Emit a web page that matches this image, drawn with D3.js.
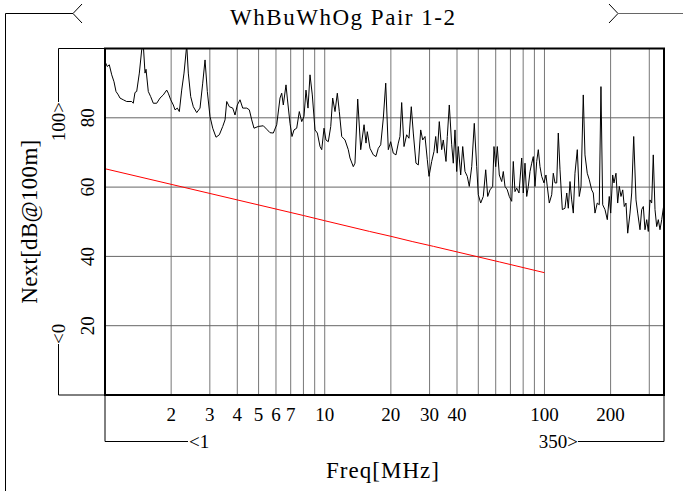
<!DOCTYPE html>
<html>
<head>
<meta charset="utf-8">
<script src="https://cdn.jsdelivr.net/npm/d3@7"></script>
<style>
  body { margin: 0; background: #fff; }
  svg { display: block; }
</style>
</head>
<body>
<div id="chart"></div>
<script>

const title = "WhBuWhOg Pair 1-2";
const xLabel = "Freq[MHz]";
const yLabel = "Next[dB@100m]";

const xRange = [1, 350];
const yRange = [0, 100];

const xTicks = [2, 3, 4, 5, 6, 7, 10, 20, 30, 40, 100, 200];
const xGrid = [2, 3, 4, 5, 6, 7, 8, 9, 10, 20, 30, 40, 50, 60, 70, 80, 90, 100, 200, 300];
const yTicks = [20, 40, 60, 80];

// measured curve: frequency (MHz) and NEXT (dB)
const freq = [
  1.00, 1.024, 1.046, 1.073, 1.099, 1.122, 1.150, 1.170, 1.211, 1.255,
  1.323, 1.345, 1.369, 1.394, 1.433, 1.469, 1.494, 1.521, 1.537, 1.574,
  1.614, 1.659, 1.719, 1.780, 1.842, 1.909, 1.941, 1.991, 2.046, 2.083,
  2.134, 2.179, 2.234, 2.289, 2.355, 2.394, 2.455, 2.523, 2.615, 2.707,
  2.784, 2.853, 2.922, 3.005, 3.092, 3.201, 3.314, 3.434, 3.518, 3.581,
  3.680, 3.814, 3.906, 4.002, 4.116, 4.234, 4.416, 4.538, 4.653, 4.766,
  4.985, 5.254, 5.445, 5.636, 5.834, 6.046, 6.259, 6.371, 6.479, 6.665,
  6.756, 6.950, 7.097, 7.248, 7.456, 7.661, 7.857, 8.047, 8.218, 8.392,
  8.570, 8.779, 9.031, 9.254, 9.520, 9.690, 9.926, 10.13, 10.38, 10.65,
  10.87, 11.14, 11.41, 11.65, 11.95, 12.37, 12.80, 13.03, 13.49, 13.73,
  14.13, 14.58, 15.10, 15.41, 15.62, 16.07, 16.64, 17.12, 17.53, 17.98,
  18.48, 18.95, 19.47, 19.96, 20.51, 21.10, 21.62, 22.00, 22.40, 22.95,
  23.60, 24.18, 24.77, 25.30, 26.02, 26.66, 27.34, 27.92, 28.60, 29.30,
  29.82, 30.68, 31.43, 31.99, 32.53, 33.22, 34.07, 34.64, 35.64, 36.13,
  36.89, 37.83, 38.47, 39.16, 39.86, 40.54, 41.57, 42.46, 43.49, 44.55,
  45.49, 46.66, 47.94, 49.16, 50.00, 51.27, 52.68, 54.03, 55.17, 56.51,
  58.13, 58.93, 59.99, 61.01, 62.30, 63.89, 64.97, 66.13, 67.75, 69.18,
  70.94, 72.14, 73.43, 74.76, 76.58, 78.78, 80.11, 81.55, 83.03, 84.44,
  85.96, 87.50, 88.98, 90.58, 92.20, 93.76, 95.43, 97.14, 99.52, 101.6,
  103.0, 105.2, 107.9, 109.7, 111.7, 113.7, 115.6, 117.7, 120.6, 124.0,
  126.3, 128.4, 130.7, 133.0, 135.3, 137.7, 141.1, 144.0, 146.7, 150.2,
  152.9, 156.6, 160.0, 164.0, 166.8, 169.8, 173.9, 177.6, 180.8, 184.1,
  188.6, 193.2, 197.2, 200.2, 204.4, 207.2, 211.6, 215.4, 219.1, 223.0,
  227.1, 230.8, 235.0, 239.3, 245.1, 249.5, 254.8, 261.0, 265.7, 272.2,
  277.0, 281.8, 286.8, 292.0, 296.9, 302.2, 307.6, 312.8, 318.5, 324.2,
  329.7, 335.6, 341.7, 347.5, 350.0
];
const next = [
  96.2, 94.8, 95.3, 92.4, 90.4, 87.6, 86.6, 85.7, 85.2, 84.7,
  84.7, 84.2, 87.3, 87.6, 92.9, 99.6, 101.0, 92.9, 94.0, 87.6,
  86.1, 84.2, 84.2, 85.7, 86.6, 88.0, 87.1, 85.2, 83.7, 82.3,
  82.8, 81.8, 88.0, 92.9, 101.0, 92.9, 86.1, 83.2, 81.5, 82.8,
  90.0, 96.7, 87.6, 80.4, 77.0, 74.4, 75.1, 77.5, 79.4, 84.7,
  83.2, 82.8, 80.8, 83.7, 85.2, 82.8, 82.8, 82.3, 79.4, 77.0,
  77.5, 77.7, 76.7, 75.7, 75.6, 78.0, 85.7, 87.1, 83.7, 89.5,
  85.7, 78.4, 74.6, 76.5, 77.0, 81.8, 78.9, 80.4, 88.0, 82.8,
  92.4, 86.6, 76.5, 75.6, 71.7, 70.8, 77.0, 73.6, 73.1, 77.5,
  85.7, 81.8, 87.1, 81.8, 74.6, 73.6, 70.8, 68.4, 65.9, 66.9,
  85.4, 70.8, 78.0, 72.7, 76.0, 71.2, 69.3, 68.8, 71.2, 72.2,
  79.9, 90.0, 70.8, 73.1, 69.8, 69.3, 72.7, 74.6, 84.4, 71.7,
  75.1, 74.1, 83.2, 75.6, 66.9, 66.4, 76.5, 73.6, 74.6, 67.9,
  63.1, 67.4, 70.3, 74.6, 69.8, 78.9, 70.8, 73.6, 67.4, 74.6,
  83.7, 72.2, 66.9, 76.5, 64.5, 71.7, 63.5, 71.7, 64.5, 63.1,
  60.2, 65.9, 78.4, 65.9, 57.8, 55.4, 57.3, 65.0, 57.3, 59.2,
  60.2, 71.7, 65.9, 71.7, 63.5, 61.6, 64.5, 60.2, 59.2, 57.3,
  55.9, 67.4, 58.7, 59.7, 58.3, 68.4, 58.3, 66.9, 57.3, 60.2,
  64.5, 66.9, 68.8, 60.2, 67.4, 70.8, 65.9, 63.1, 61.2, 63.5,
  60.2, 55.4, 57.8, 64.0, 61.2, 61.2, 75.6, 65.0, 53.5, 53.9,
  58.3, 53.9, 61.6, 56.3, 52.5, 64.0, 70.8, 57.3, 60.2, 86.6,
  69.3, 64.0, 62.1, 59.2, 58.3, 52.5, 55.4, 54.9, 89.0, 54.9,
  53.5, 50.6, 57.3, 52.5, 63.5, 61.2, 64.0, 55.4, 60.2, 57.3,
  59.2, 54.4, 55.4, 46.7, 52.5, 58.3, 74.6, 56.3, 52.5, 47.7,
  53.5, 54.4, 47.7, 50.6, 47.2, 56.3, 55.4, 69.3, 53.5, 48.6,
  50.6, 47.7, 50.6, 53.9, 54.9
];

// limit line (red)
const limitFreq = [1, 4, 8, 10, 16, 20, 25, 31.25, 62.5, 100];
const limitNext = [65.3, 56.3, 51.8, 50.3, 47.2, 45.8, 44.3, 42.9, 38.4, 35.3];

const width = 683, height = 491;
const plotLeft = 105, plotRight = 664, plotTop = 48.5, plotBottom = 395;

const numFont = "'Liberation Serif', serif";

const svg = d3.select("#chart").append("svg")
    .attr("width", width)
    .attr("height", height)
    .style("background", "#fff");

const x = d3.scaleLog().domain(xRange).range([plotLeft, plotRight]);
const y = d3.scaleLinear().domain(yRange).range([plotBottom, plotTop]);

svg.append("defs").append("clipPath").attr("id", "plotclip")
    .append("rect")
    .attr("x", plotLeft).attr("y", plotTop)
    .attr("width", plotRight - plotLeft).attr("height", plotBottom - plotTop);

// grid
svg.append("g")
    .selectAll("line")
    .data(xGrid)
    .join("line")
    .attr("x1", d => x(d)).attr("x2", d => x(d))
    .attr("y1", plotTop).attr("y2", plotBottom)
    .attr("stroke", "#777")
    .attr("stroke-width", 1);

svg.append("g")
    .selectAll("line")
    .data(yTicks)
    .join("line")
    .attr("x1", plotLeft).attr("x2", plotRight)
    .attr("y1", d => y(d)).attr("y2", d => y(d))
    .attr("stroke", "#666")
    .attr("stroke-width", 1);

// curves
const plot = svg.append("g").attr("clip-path", "url(#plotclip)");

const line = d3.line()
    .x(d => x(d[0]))
    .y(d => y(d[1]));

plot.append("path")
    .attr("d", line(d3.zip(limitFreq, limitNext)))
    .attr("fill", "none")
    .attr("stroke", "#ff0000")
    .attr("stroke-width", 1);

plot.append("path")
    .attr("d", line(d3.zip(freq, next)))
    .attr("fill", "none")
    .attr("stroke", "#000")
    .attr("stroke-width", 1);

// frame
svg.append("rect")
    .attr("x", plotLeft).attr("y", plotTop)
    .attr("width", plotRight - plotLeft).attr("height", plotBottom - plotTop)
    .attr("fill", "none")
    .attr("stroke", "#000")
    .attr("stroke-width", 2);

// x tick labels
svg.append("g")
    .selectAll("text")
    .data(xTicks)
    .join("text")
    .attr("x", d => x(d))
    .attr("y", 421)
    .attr("text-anchor", "middle")
    .attr("font-family", numFont)
    .attr("font-size", 19)
    .text(d => d);

// y tick labels (rotated)
svg.append("g")
    .selectAll("text")
    .data(yTicks)
    .join("text")
    .attr("transform", d => `translate(94,${y(d)}) rotate(-90)`)
    .attr("text-anchor", "middle")
    .attr("font-family", numFont)
    .attr("font-size", 19)
    .text(d => d);

// range brackets
const bracket = svg.append("g")
    .attr("fill", "none")
    .attr("stroke", "#000")
    .attr("stroke-width", 1);

const yBx = 58.5;
bracket.append("path").attr("d", `M${plotLeft},${plotTop}H${yBx}V102`);
bracket.append("path").attr("d", `M${plotLeft},${plotBottom}H${yBx}V344`);

const xBy = 441.5;
bracket.append("path").attr("d", `M${x(xRange[0])},${plotBottom}V${xBy}H188`);
bracket.append("path").attr("d", `M${x(xRange[1])},${plotBottom}V${xBy}H578`);

svg.append("text")
    .attr("transform", `translate(65,102) rotate(-90)`)
    .attr("text-anchor", "end")
    .attr("font-family", numFont)
    .attr("font-size", 19)
    .text(yRange[1] + ">");

svg.append("text")
    .attr("transform", `translate(65,344) rotate(-90)`)
    .attr("text-anchor", "start")
    .attr("font-family", numFont)
    .attr("font-size", 19)
    .text("<" + yRange[0]);

svg.append("text")
    .attr("x", 189).attr("y", 448)
    .attr("text-anchor", "start")
    .attr("font-family", numFont)
    .attr("font-size", 19)
    .text("<" + xRange[0]);

svg.append("text")
    .attr("x", 578).attr("y", 448)
    .attr("text-anchor", "end")
    .attr("font-family", numFont)
    .attr("font-size", 19)
    .text(xRange[1] + ">");

// title with its bracket
bracket.append("path").attr("d", "M5.5,491V13.5H73");
bracket.append("path").attr("d", "M82,4L73,13.5L82,23");
bracket.append("path").attr("d", "M609,4L618,13.5L609,23");
svg.append("path").attr("d", "M618,13.5H683")
    .attr("stroke", "#666").attr("fill", "none");

// the original uses a fixed-pitch serif face; spread a serif to the same width
svg.append("text")
    .attr("x", 230).attr("y", 25)
    .attr("font-family", numFont)
    .attr("font-size", 23)
    .attr("textLength", 225)
    .attr("lengthAdjust", "spacing")
    .text(title);

// axis titles
svg.append("text")
    .attr("x", 326).attr("y", 478)
    .attr("font-family", numFont)
    .attr("font-size", 23)
    .attr("textLength", 113)
    .attr("lengthAdjust", "spacing")
    .text(xLabel);

svg.append("text")
    .attr("transform", `translate(37,${(plotTop + plotBottom) / 2 + 82}) rotate(-90)`)
    .attr("font-family", numFont)
    .attr("font-size", 23)
    .attr("textLength", 164)
    .attr("lengthAdjust", "spacing")
    .text(yLabel);
</script>
</body>
</html>
